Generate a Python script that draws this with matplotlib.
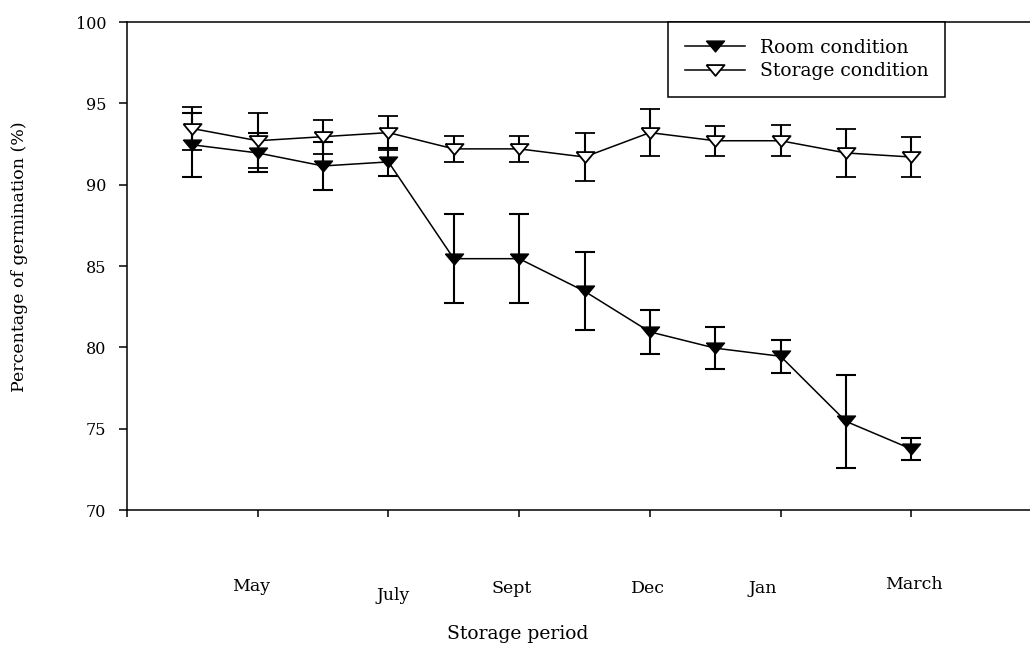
import matplotlib
matplotlib.use("Agg")
import matplotlib.pyplot as plt
import matplotlib.transforms as mtransforms
from matplotlib.lines import Line2D

# Germination (%) over the storage period, 12 sampling points
x_pos = [0.5, 1.0, 1.5, 2.0, 2.5, 3.0, 3.5, 4.0, 4.5, 5.0, 5.5, 6.0]

room = [92.45, 91.95, 91.15, 91.4, 85.45, 85.45, 83.45, 80.95, 79.95, 79.45, 75.45, 73.75]
room_err = [1.95, 1.2, 1.45, 0.85, 2.75, 2.75, 2.4, 1.35, 1.3, 1.0, 2.85, 0.7]

storage = [93.45, 92.7, 92.95, 93.2, 92.2, 92.2, 91.7, 93.2, 92.7, 92.7, 91.95, 91.7]
storage_err = [1.3, 1.7, 1.05, 1.05, 0.8, 0.8, 1.45, 1.45, 0.93, 0.94, 1.45, 1.2]

tick_pos = [0, 1, 2, 3, 4, 5, 6]
tick_labels = ["", "May", "July", "Sept", "Dec", "Jan", "March"]

plt.rcParams["font.family"] = "DejaVu Serif"

# wide, flat down-pointing triangle
tri = [(-1.0, 0.6), (1.0, 0.6), (0.0, -0.6), (-1.0, 0.6)]

fig = plt.figure(figsize=(10.3, 6.48), dpi=100)
ax = fig.add_axes([127 / 1030, 138 / 648, 915 / 1030, 488 / 648])

ax.errorbar(x_pos, room, yerr=room_err, color="black", lw=1.1,
            elinewidth=1.5, capsize=7.5, capthick=1.5,
            marker=tri, markersize=13, mfc="black", mec="black", zorder=2)
ax.errorbar(x_pos, storage, yerr=storage_err, color="black", lw=1.1,
            elinewidth=1.5, capsize=7.5, capthick=1.5,
            marker=tri, markersize=13, mfc="white", mec="black", mew=1.3,
            zorder=3)

ax.set_xlim(0, 7)
ax.set_ylim(70, 100)
ax.set_yticks([70, 75, 80, 85, 90, 95, 100])
ax.set_xticks(tick_pos)
ax.set_xticklabels(tick_labels, fontsize=12.5)

for s in ["left", "bottom", "top"]:
    ax.spines[s].set_linewidth(1.1)
ax.spines["right"].set_visible(False)

ax.tick_params(axis="y", direction="out", length=6, width=1.1, pad=9,
               labelsize=11.5)
ax.tick_params(axis="x", direction="out", length=5, width=1.1, pad=44)

# small shifts on individual month labels
shifts = {"May": (-7, 0), "July": (5, -9), "Sept": (-8, -2), "Dec": (-2, -2),
          "Jan": (-18, -2), "March": (3, 2)}
for lab in ax.get_xticklabels():
    dx, dy = shifts.get(lab.get_text(), (0, 0))
    off = mtransforms.ScaledTranslation(dx / 100, dy / 100, fig.dpi_scale_trans)
    lab.set_transform(lab.get_transform() + off)

ax.set_xlabel("Storage period", fontsize=13.5)
ax.xaxis.set_label_coords(0.427, -0.254)
ax.xaxis.label.set_va("center")
ax.set_ylabel("Percentage of germination (%)", fontsize=12.5)
ax.yaxis.set_label_coords(-0.117, 0.52)
ax.yaxis.label.set_va("center")

handles = [
    Line2D([], [], color="black", lw=1.1, marker=tri, markersize=13,
           mfc="black", mec="black"),
    Line2D([], [], color="black", lw=1.1, marker=tri, markersize=13,
           mfc="white", mec="black", mew=1.3),
]
leg = ax.legend(handles, ["Room condition", "Storage condition"],
                loc="upper left", bbox_to_anchor=(0.591, 1.0),
                borderaxespad=0, fontsize=13.5, handlelength=3.2,
                handletextpad=0.8, labelspacing=0.3, borderpad=0.9,
                fancybox=False, framealpha=1)
leg.get_frame().set_edgecolor("black")
leg.get_frame().set_linewidth(1.1)

fig.savefig("out.png", dpi=100)
plt.close(fig)
